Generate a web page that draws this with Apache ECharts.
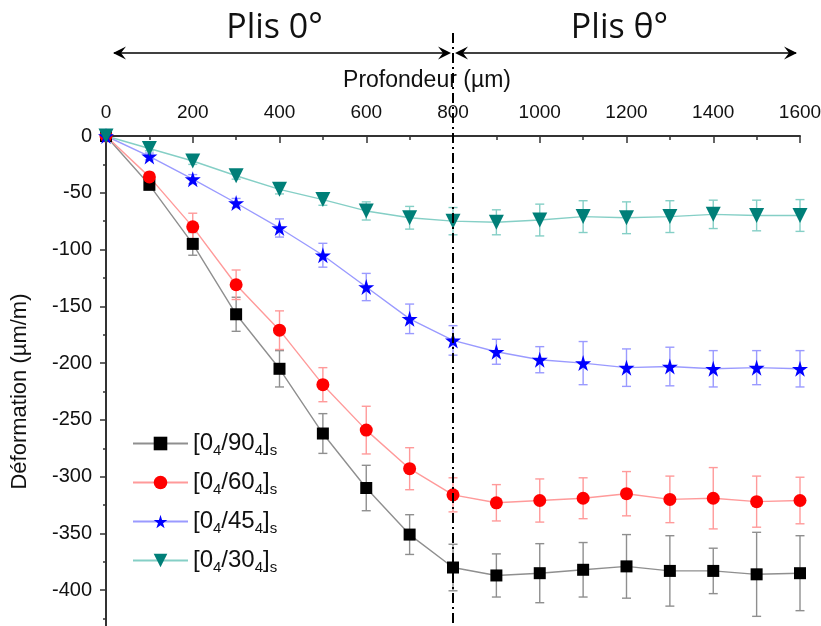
<!DOCTYPE html>
<html><head><meta charset="utf-8">
<script src="https://cdn.jsdelivr.net/npm/echarts@6/dist/echarts.min.js"></script>
<style>html,body{margin:0;padding:0;background:#fff}#c{width:821px;height:626px}</style>
</head><body><div id="c"></div>
<script>
const depths = [0,100,200,300,400,500,600,700,800,900,1000,1100,1200,1300,1400,1500,1600];
const names = ['[0_4/90_4]_s','[0_4/60_4]_s','[0_4/45_4]_s','[0_4/30_4]_s'];
const s90 = [0,-43,-95,-157,-205,-262,-310,-351,-380,-387,-385,-382,-379,-383,-383,-386,-385];
const s60 = [0,-36,-80,-131,-171,-219,-259,-293,-316,-323,-321,-319,-315,-320,-319,-322,-321];
const s45 = [0,-18,-38,-59,-81,-105,-133,-161,-180,-190,-197,-200,-204,-203,-205,-204,-205];
const s30 = [0,-11,-22,-35,-47,-56,-66,-72,-75,-76,-74,-71,-72,-71,-69,-70,-70];
const e90 = [0,4,10,15,16,17.5,20,17.5,20.5,19,26,24,28,31,20,37,33];
const e60 = [0,4,12,13,17,15,21,18.5,15,16,19,18,19.5,20.5,27,22.5,20.5];
const e45 = [0,3,4,4,8,10.5,12,13,13,11,11.5,19,16.5,17,16,15,16];
const e30 = [0,2,3,3,4,5,8,10,12,11,14,14,14,14,12.5,13.5,14];
const xTicks = [0,200,400,600,800,1000,1200,1400,1600];
const yTicks = [0,-50,-100,-150,-200,-250,-300,-350,-400];

const STAR = 'path://M50,0 L61,35 L98,35 L68,57 L79,91 L50,70 L21,91 L32,57 L2,35 L39,35 Z';
const TRI = 'path://M0,0 L100,0 L50,87 Z';
const cfg = [
  {vals:s90, errs:e90, sym:'rect', size:12, mk:'#000000', ln:'#8f8f8f'},
  {vals:s60, errs:e60, sym:'circle', size:13, mk:'#ff0000', ln:'#ff9a9a'},
  {vals:s45, errs:e45, sym:STAR, size:16, mk:'#0000ff', ln:'#9a9aff'},
  {vals:s30, errs:e30, sym:TRI, size:15, mk:'#007f78', ln:'#85cfc6'}
];
const font = 'Liberation Sans, Arial, sans-serif';
const series = [];
cfg.forEach((c,i)=>{
  series.push({
    type:'custom', name:'err'+i, z:2,
    data: depths.map((d,k)=>[d,c.vals[k],c.errs[k]]),
    renderItem(params, api){
      const x=api.value(0), y=api.value(1), e=api.value(2);
      if(!e) return null;
      const hi=api.coord([x,y+e]), lo=api.coord([x,y-e]);
      const w=4.5, st={stroke:c.ln, lineWidth:1.4};
      return {type:'group', children:[
        {type:'line', shape:{x1:hi[0],y1:hi[1],x2:lo[0],y2:lo[1]}, style:st},
        {type:'line', shape:{x1:hi[0]-w,y1:hi[1],x2:hi[0]+w,y2:hi[1]}, style:st},
        {type:'line', shape:{x1:lo[0]-w,y1:lo[1],x2:lo[0]+w,y2:lo[1]}, style:st}
      ]};
    }
  });
});
cfg.forEach((c,i)=>{
  series.push({
    type:'line', name:names[i], z:3,
    data: depths.map((d,k)=>[d,c.vals[k]]),
    symbol:c.sym, symbolSize:c.size, showAllSymbol:true,
    lineStyle:{color:c.ln, width:1.4},
    itemStyle:{color:c.mk},
    emphasis:{disabled:true}, animation:false
  });
});

const chart = echarts.init(document.getElementById('c'), null, {renderer:'canvas'});
chart.setOption({
  animation:false,
  backgroundColor:'#fff',
  grid:{left:106, top:136, width:694, height:511, containLabel:false, outerBoundsMode:'none'},
  xAxis:{
    type:'value', position:'top', min:0, max:1600, interval:200,
    name:'Profondeur (µm)', nameLocation:'middle', nameGap:44,
    nameTextStyle:{fontFamily:font, fontSize:23, color:'#111', padding:[0,52,0,0]},
    axisLine:{onZero:false, lineStyle:{color:'#333', width:2}},
    axisTick:{inside:true, length:7, lineStyle:{color:'#333', width:1.5}},
    minorTick:{show:true, splitNumber:2, length:4, lineStyle:{color:'#333', width:1.5}},
    splitLine:{show:false},
    axisLabel:{fontFamily:font, fontSize:19, color:'#111', margin:14,
      formatter:v=>xTicks.includes(v)?String(v):''}
  },
  yAxis:{
    type:'value', min:-450, max:0, interval:50,
    name:'Déformation (µm/m)', nameLocation:'middle', nameGap:75,
    nameTextStyle:{fontFamily:font, fontSize:22, color:'#111'},
    axisLine:{onZero:false, lineStyle:{color:'#333', width:2}},
    axisTick:{inside:false, length:6, lineStyle:{color:'#333', width:1.5}},
    minorTick:{show:true, splitNumber:2, length:3, lineStyle:{color:'#333', width:1.5}},
    splitLine:{show:false},
    axisLabel:{fontFamily:font, fontSize:20, color:'#111', margin:14,
      formatter:v=>yTicks.includes(v)?String(v):''}
  },
  legend:{
    data:names, orient:'vertical', left:127, top:424, itemWidth:55, itemHeight:17, itemGap:10,
    selectedMode:false,
    formatter:n=>{
      const m=n.match(/\[0_4\/(\d+)_4\]_s/);
      return '{a|[0}{b|4}{a|/'+m[1]+'}{b|4}{a|]}{b|s}';
    },
    textStyle:{fontFamily:font, color:'#111', rich:{
      a:{fontFamily:font, fontSize:24, lineHeight:30, color:'#111'},
      b:{fontFamily:font, fontSize:15, lineHeight:16, padding:[14,0,0,0], color:'#111'}
    }}
  },
  series
});

const px = v=>chart.convertToPixel({xAxisIndex:0}, v);
const x0=px(0), x8=px(800), x16=px(1600);
const ay=53;
function head(tx, dir){
  return {type:'polygon', shape:{points:[[tx,ay],[tx-dir*13,ay-6.5],[tx-dir*8,ay],[tx-dir*13,ay+6.5]]}, style:{fill:'#000'}};
}
chart.setOption({graphic:[
  {type:'line', shape:{x1:x0+8, y1:ay, x2:x8-4, y2:ay}, style:{stroke:'#000', lineWidth:1.6}},
  {type:'line', shape:{x1:x8+4, y1:ay, x2:x16-4, y2:ay}, style:{stroke:'#000', lineWidth:1.6}},
  head(x0+7,-1), head(x8-2,1), head(x8+2,-1), head(x16-3,1),
  {type:'line', shape:{x1:x8, y1:33, x2:x8, y2:626}, style:{stroke:'#000', lineWidth:2, lineDash:[10,4,2,4]}, z:10},
  {type:'text', x:(x0+x8)/2-5, y:28, style:{text:'Plis 0°', font:'34px "Open Sans"', fill:'#111', align:'center', verticalAlign:'middle'}},
  {type:'text', x:(x8+x16)/2-7, y:28, style:{text:'Plis θ°', font:'34px "Open Sans"', fill:'#111', align:'center', verticalAlign:'middle'}}
]});
</script></body></html>
